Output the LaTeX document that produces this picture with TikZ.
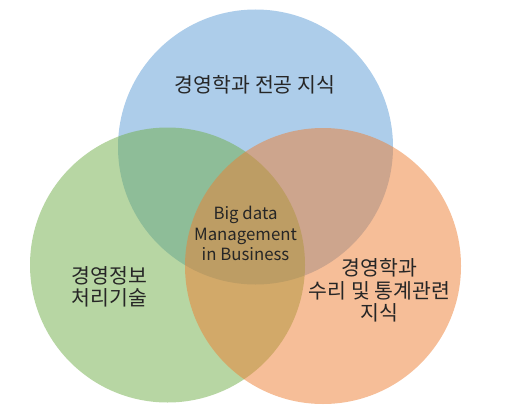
\documentclass[tikz,border=0pt]{standalone}
\usepackage{fontspec}
\newfontfamily\kr{Noto Sans CJK KR}
\definecolor{cblue}{HTML}{5B9BD5}
\definecolor{cgreen}{HTML}{70AD47}
\definecolor{corange}{HTML}{ED7D31}
\definecolor{ctext}{HTML}{262626}
\begin{document}
\begin{tikzpicture}[x=1pt,y=1pt,
  venn/.style={fill opacity=0.5},
  lbl/.style={font=\kr\fontsize{20.5}{22.5}\selectfont, align=center, text=ctext, inner sep=0pt},
  mid/.style={font=\kr\fontsize{16.8}{20.5}\selectfont, align=center, text=ctext, inner sep=0pt}]
\useasboundingbox (0,0) rectangle (508,408);
\fill[cblue, venn] (255.5,261) circle (137.5);
\fill[cgreen, venn] (167.5,143) circle (137.5);
\fill[corange, venn] (323,142) circle (138);
\node[lbl] (top) at (255,323) {경영학과 전공 지식};
\node[mid] (center) at (245.5,174.5) {Big data\\Management\\in Business};
\node[lbl] (left) at (109.5,121) {경영정보\\처리기술};
\node[lbl] (right) at (379.5,117.5) {경영학과\\수리 및 통계관련\\지식};
\end{tikzpicture}
\end{document}
